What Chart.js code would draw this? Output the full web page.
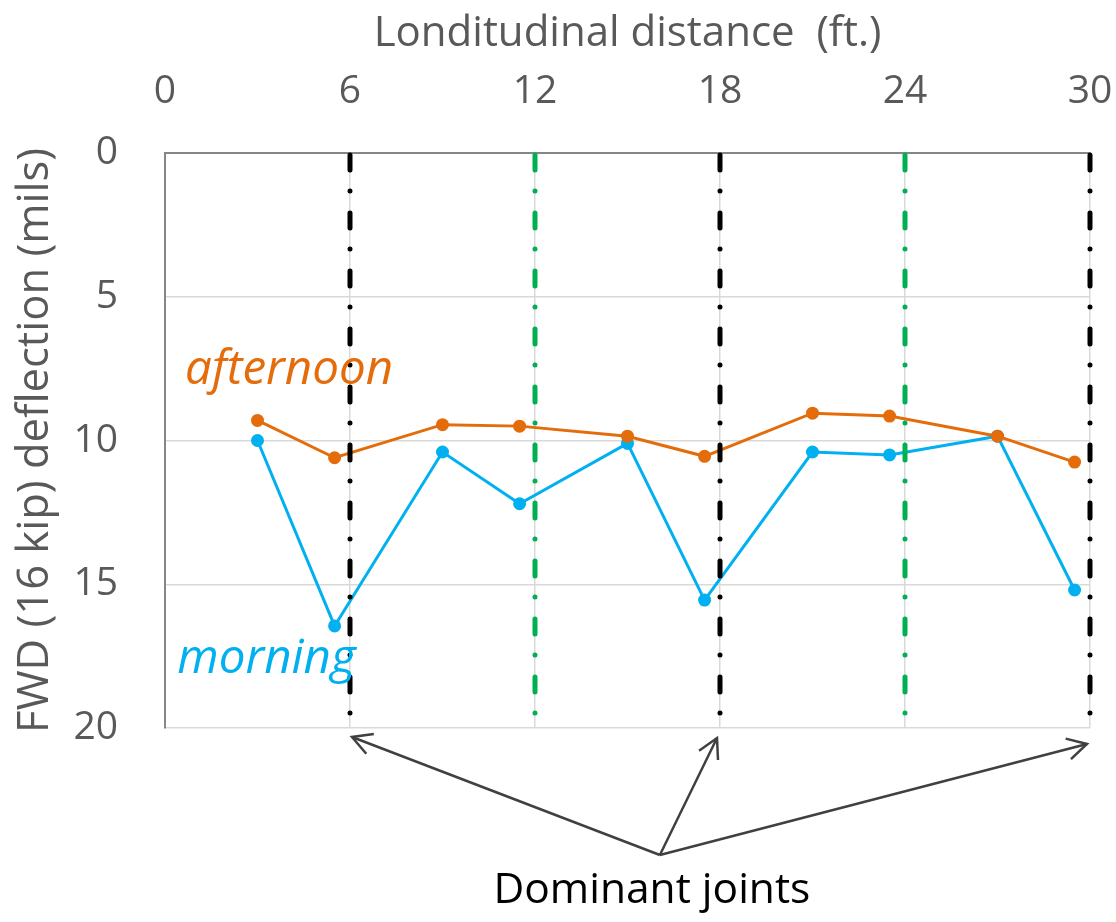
<!DOCTYPE html>
<html>
<head>
<meta charset="utf-8">
<script src="https://cdn.jsdelivr.net/npm/chart.js@4.4.1/dist/chart.umd.min.js"></script>
<style>
  html, body { margin: 0; padding: 0; background: #ffffff; }
  #wrap { width: 1116px; height: 922px; position: relative; }
</style>
</head>
<body>
<div id="wrap"><canvas id="c" width="1116" height="922"></canvas></div>
<script>
// Longitudinal FWD test positions (ft)
const distances = [3, 5.5, 9, 11.5, 15, 17.5, 21, 23.5, 27, 29.5];
// FWD (16 kip) deflections (mils)
const afternoon = [9.3, 10.6, 9.45, 9.5, 9.85, 10.55, 9.05, 9.15, 9.85, 10.75];
const morning   = [10.0, 16.45, 10.4, 12.2, 10.1, 15.55, 10.4, 10.5, 9.85, 15.2];
// Joint locations (ft)
const dominantJoints = [6, 18, 30];
const otherJoints = [12, 24];
// Axis ticks
const xTicks = [0, 6, 12, 18, 24, 30];
const yTicks = [0, 5, 10, 15, 20];

const FONT = "'Open Sans', 'Noto Sans', sans-serif";
const GRAY_TXT = '#595959';
const ORANGE = '#E46C0A';
const BLUE = '#00B0F0';
const GREEN = '#00B050';

Chart.defaults.font.family = FONT;
Chart.defaults.color = GRAY_TXT;

const toPts = ys => distances.map((x, i) => ({ x: x, y: ys[i] }));

// dash-dot joint lines drawn over the series
const jointLines = {
  id: 'jointLines',
  afterDatasetsDraw(chart) {
    const { ctx, chartArea, scales } = chart;
    const draw = (xs, color) => {
      xs.forEach(v => {
        const px = scales.x.getPixelForValue(v);
        ctx.save();
        ctx.strokeStyle = color;
        ctx.lineWidth = 5;
        ctx.lineCap = 'round';
        ctx.setLineDash([15, 21, 0.01, 22]);
        ctx.beginPath();
        ctx.moveTo(px, chartArea.top + 2);
        ctx.lineTo(px, chartArea.bottom - 2);
        ctx.stroke();
        ctx.restore();
      });
    };
    draw(otherJoints, GREEN);
    draw(dominantJoints, '#000000');
  }
};

// series labels and the "Dominant joints" callout
const annotations = {
  id: 'annotations',
  afterDraw(chart) {
    const { ctx, chartArea, scales } = chart;
    const xs = scales.x, ys = scales.y;
    ctx.save();
    ctx.textBaseline = 'alphabetic';
    ctx.textAlign = 'left';
    ctx.font = 'italic 47.5px ' + FONT;
    ctx.fillStyle = ORANGE;
    ctx.fillText('afternoon', xs.getPixelForValue(0.65), ys.getPixelForValue(8.05));
    ctx.fillStyle = BLUE;
    ctx.fillText('morning', xs.getPixelForValue(0.4), ys.getPixelForValue(18.1));

    // arrows from a common origin to each dominant joint
    const ox = xs.getPixelForValue(16.05);
    const oy = chartArea.bottom + 127;
    const tipOffsets = [[2, 9], [-3, 10], [-3, 16]];
    ctx.strokeStyle = '#404040';
    ctx.lineWidth = 2.5;
    ctx.lineCap = 'butt';
    dominantJoints.forEach((j, i) => {
      const tx = xs.getPixelForValue(j) + tipOffsets[i][0];
      const ty = chartArea.bottom + tipOffsets[i][1];
      ctx.beginPath();
      ctx.moveTo(ox, oy);
      ctx.lineTo(tx, ty);
      ctx.stroke();
      const a = Math.atan2(ty - oy, tx - ox);
      const L = 22, w = 0.5;
      ctx.beginPath();
      ctx.moveTo(tx - L * Math.cos(a - w), ty - L * Math.sin(a - w));
      ctx.lineTo(tx, ty);
      ctx.lineTo(tx - L * Math.cos(a + w), ty - L * Math.sin(a + w));
      ctx.stroke();
    });

    ctx.fillStyle = '#000000';
    ctx.font = '42.5px ' + FONT;
    ctx.textAlign = 'center';
    ctx.fillText('Dominant joints', ox - 8, chartArea.bottom + 175);
    ctx.restore();
  }
};

new Chart(document.getElementById('c'), {
  type: 'line',
  data: {
    datasets: [
      {
        label: 'afternoon',
        data: toPts(afternoon),
        borderColor: ORANGE,
        backgroundColor: ORANGE,
        borderWidth: 3,
        pointRadius: 5,
        pointHoverRadius: 5,
        tension: 0
      },
      {
        label: 'morning',
        data: toPts(morning),
        borderColor: BLUE,
        backgroundColor: BLUE,
        borderWidth: 3,
        pointRadius: 5,
        pointHoverRadius: 5,
        tension: 0
      }
    ]
  },
  options: {
    responsive: false,
    animation: false,
    events: [],
    layout: { padding: { left: 0, top: 0, right: 26, bottom: 194 } },
    plugins: {
      legend: { display: false },
      tooltip: { enabled: false }
    },
    scales: {
      x: {
        type: 'linear',
        position: 'top',
        min: 0,
        max: 30,
        afterBuildTicks: s => { s.ticks = xTicks.map(v => ({ value: v })); },
        afterFit: s => { s.height = 153; s.paddingLeft = 0; s.paddingRight = 0; },
        ticks: { font: { size: 39 }, color: GRAY_TXT, padding: 38, maxRotation: 0 },
        grid: { color: '#D9D9D9', lineWidth: 1.5, drawTicks: false },
        border: { display: true, color: '#868686', width: 2 },
        title: {
          display: true,
          text: 'Londitudinal distance  (ft.)',
          font: { size: 42 },
          color: GRAY_TXT,
          padding: { top: 9, bottom: 0 }
        }
      },
      y: {
        type: 'linear',
        reverse: true,
        min: 0,
        max: 20,
        afterBuildTicks: s => { s.ticks = yTicks.map(v => ({ value: v })); },
        afterFit: s => { s.width = 165; s.paddingTop = 0; s.paddingBottom = 0; },
        ticks: { font: { size: 39 }, color: GRAY_TXT, padding: 47 },
        grid: { color: '#D9D9D9', lineWidth: 1.5, drawTicks: false },
        border: { display: true, color: '#868686', width: 2 },
        title: {
          display: true,
          text: 'FWD (16 kip) deflection (mils)',
          font: { size: 43.5 },
          color: GRAY_TXT,
          padding: { top: 10, bottom: 0 }
        }
      }
    }
  },
  plugins: [jointLines, annotations]
});
</script>
</body>
</html>
